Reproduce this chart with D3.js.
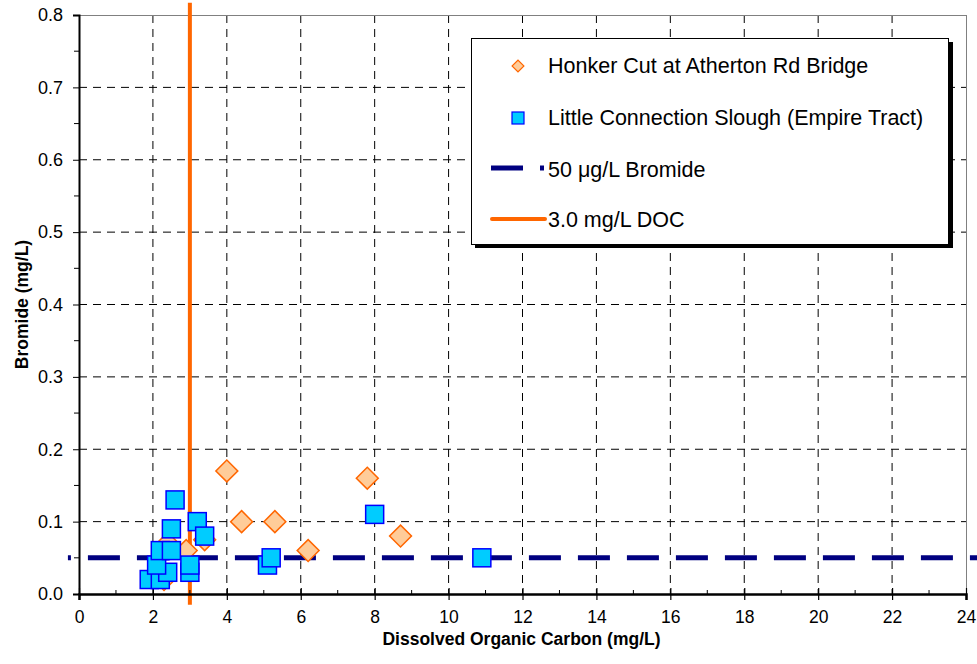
<!DOCTYPE html>
<html><head><meta charset="utf-8">
<script src="https://cdn.jsdelivr.net/npm/d3@7"></script>
<style>body{margin:0;background:#fff;}svg{display:block;font-family:"Liberation Sans",Arial,sans-serif;}</style>
</head><body>
<svg id="c" width="977" height="664"></svg>
<script>
// Data
const honkerDOC = [4.0, 4.4, 5.3, 6.2, 7.8, 8.7, 3.4, 2.9, 2.3, 2.4];
const honkerBr  = [0.17, 0.10, 0.10, 0.06, 0.16, 0.08, 0.075, 0.06, 0.02, 0.07];
const littleDOC = [1.9, 2.2, 2.4, 2.1, 2.2, 2.5, 2.5, 2.6, 3.0, 3.0, 3.2, 3.4, 5.1, 5.2, 8.0, 10.9];
const littleBr  = [0.02, 0.02, 0.03, 0.04, 0.06, 0.06, 0.09, 0.13, 0.03, 0.04, 0.10, 0.08, 0.04, 0.05, 0.11, 0.05];
const bromideX = [-0.3, 24.6];
const bromideY = [0.05, 0.05];
const docX = [3.0, 3.0];
const docY = [-0.015, 0.817];
const xTicks = [0,2,4,6,8,10,12,14,16,18,20,22,24];
const yTicks = [0.0,0.1,0.2,0.3,0.4,0.5,0.6,0.7,0.8];
const legendLabels = ["Honker Cut at Atherton Rd Bridge","Little Connection Slough (Empire Tract)","50 \u03BCg/L Bromide","3.0 mg/L DOC"];

const svg = d3.select("#c");
const L = 79, R = 966, T = 15, B = 594;
const x = d3.scaleLinear().domain([0,24]).range([L,R]);
const y = d3.scaleLinear().domain([0,0.8]).range([B,T]);

// gridlines
const g = svg.append("g");
g.selectAll(".hg").data(yTicks.filter(v=>v>0 && v<0.8)).join("line")
  .attr("x1",L).attr("x2",R).attr("y1",d=>y(d)).attr("y2",d=>y(d))
  .attr("stroke","#000").attr("stroke-width",1).attr("stroke-dasharray","8,6");
g.selectAll(".vg").data(xTicks.filter(v=>v>0 && v<24)).join("line")
  .attr("y1",T).attr("y2",B).attr("x1",d=>x(d)).attr("x2",d=>x(d))
  .attr("stroke","#000").attr("stroke-width",1).attr("stroke-dasharray","8,6");
// top and right border
svg.append("line").attr("x1",L).attr("x2",R).attr("y1",T+0.5).attr("y2",T+0.5).attr("stroke","#808080");
svg.append("line").attr("x1",R+0.5).attr("x2",R+0.5).attr("y1",T).attr("y2",B).attr("stroke","#808080");

// reference lines
const line = d3.line().x(d=>x(d[0])).y(d=>y(d[1]));
svg.append("path").datum(bromideX.map((v,i)=>[v,bromideY[i]]))
  .attr("d",line).attr("stroke","#000080").attr("stroke-width",5).attr("fill","none")
  .attr("stroke-dasharray","32,17").attr("stroke-dashoffset",29);
svg.append("path").datum(docX.map((v,i)=>[v,docY[i]]))
  .attr("d",line).attr("stroke","#FF6600").attr("stroke-width",4).attr("fill","none");

// axes
const yAxis = d3.axisLeft(y).tickValues(yTicks).tickFormat(d3.format(".1f")).tickSize(6).tickPadding(10);
const gy = svg.append("g").attr("transform",`translate(${L},0)`).call(yAxis);
gy.attr("font-size",null).attr("font-family",null);
gy.select(".domain").attr("stroke-width",2);
gy.selectAll("text").style("font-size","18px").style("font-family","'Liberation Sans', Arial").attr("fill","#000");
const yMinor = d3.range(0.05,0.8,0.1);
svg.append("g").selectAll("line").data(yMinor).join("line")
  .attr("x1",L-5).attr("x2",L).attr("y1",d=>y(d)).attr("y2",d=>y(d)).attr("stroke","#000");

const xAxis = d3.axisBottom(x).tickValues(xTicks).tickFormat(d3.format("d")).tickSize(6).tickPadding(6);
const gx = svg.append("g").attr("transform",`translate(0,${B})`).call(xAxis);
gx.attr("font-size",null).attr("font-family",null);
gx.select(".domain").attr("stroke-width",2.5);
gx.selectAll(".tick line").attr("y1",-6).attr("stroke-width",1.2);
gx.selectAll("text").attr("dy",null).attr("y",29).style("font-size","17.5px")
  .style("font-family","'Liberation Sans', Arial").attr("fill","#000");
const xMinor = d3.range(1,24,2);
svg.append("g").selectAll("line").data(xMinor).join("line")
  .attr("x1",d=>x(d)).attr("x2",d=>x(d)).attr("y1",B-4).attr("y2",B).attr("stroke","#000");

// points
const diamond = d3.symbol().type(d3.symbolSquare).size(240);
svg.append("g").selectAll("path").data(honkerDOC.map((v,i)=>[v,honkerBr[i]])).join("path")
  .attr("d",diamond).attr("transform",d=>`translate(${x(d[0])},${y(d[1])}) rotate(45)`)
  .attr("fill","#FFCC99").attr("stroke","#FF6600").attr("stroke-width",1.5);
svg.append("g").selectAll("rect").data(littleDOC.map((v,i)=>[v,littleBr[i]])).join("rect")
  .attr("x",d=>x(d[0])-9).attr("y",d=>y(d[1])-9).attr("width",18).attr("height",18)
  .attr("fill","#00CCFF").attr("stroke","#0000FF").attr("stroke-width",1.5);

// axis titles
svg.append("text").attr("x",(L+R)/2 - 1).attr("y",645).attr("text-anchor","middle")
  .style("font-size","17.5px").attr("font-weight","bold").text("Dissolved Organic Carbon (mg/L)");
svg.append("text").attr("transform",`translate(28,${(T+B)/2}) rotate(-90)`).attr("text-anchor","middle")
  .style("font-size","17.5px").attr("font-weight","bold").text("Bromide (mg/L)");

// legend
const lg = svg.append("g");
lg.append("rect").attr("x",475).attr("y",42).attr("width",478).attr("height",206).attr("fill","#000");
lg.append("rect").attr("x",471.5).attr("y",38.5).attr("width",477).attr("height",206).attr("fill","#fff").attr("stroke","#000").attr("stroke-width",1);
const ly = [66,118,168,219];
lg.append("path").attr("d",d3.symbol().type(d3.symbolSquare).size(70)())
  .attr("transform",`translate(518,${ly[0]}) rotate(45)`).attr("fill","#FFCC99").attr("stroke","#FF6600").attr("stroke-width",1.2);
lg.append("rect").attr("x",512).attr("y",ly[1]-6).attr("width",12).attr("height",12)
  .attr("fill","#00CCFF").attr("stroke","#0000FF").attr("stroke-width",1.2);
lg.append("line").attr("x1",491).attr("x2",523).attr("y1",ly[2]).attr("y2",ly[2]).attr("stroke","#000080").attr("stroke-width",5);
lg.append("line").attr("x1",540).attr("x2",544).attr("y1",ly[2]).attr("y2",ly[2]).attr("stroke","#000080").attr("stroke-width",5);
lg.append("line").attr("x1",492).attr("x2",545).attr("y1",ly[3]).attr("y2",ly[3]).attr("stroke","#FF6600").attr("stroke-width",4).attr("stroke-linecap","round");
lg.selectAll("text").data(legendLabels).join("text")
  .attr("x",548).attr("y",(d,i)=>[73,125,177,227][i]).style("font-size","21.5px").attr("fill","#000").text(d=>d);
</script>
</body></html>
